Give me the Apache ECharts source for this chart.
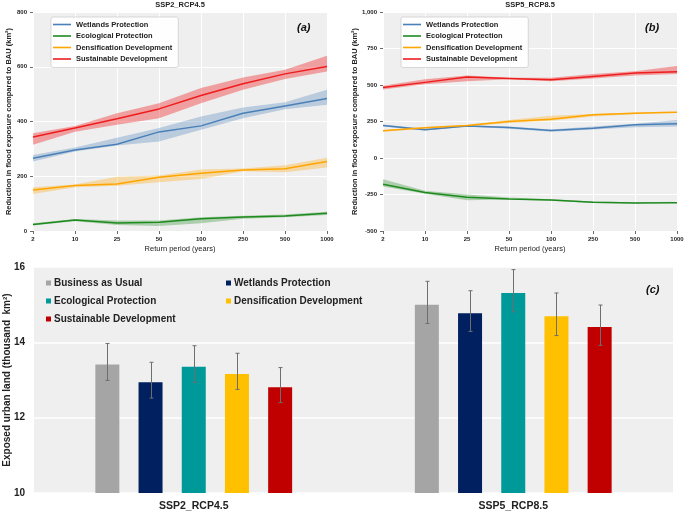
<!DOCTYPE html>
<html>
<head>
<meta charset="utf-8">
<script src="https://cdn.jsdelivr.net/npm/echarts@6/dist/echarts.min.js"></script>
<style>
html,body{margin:0;padding:0;background:#fff;}
#chart{width:685px;height:515px;}
</style>
</head>
<body>
<div id="chart"></div>
<script>
// ---------- DATA ----------
const periods = ['2', '10', '25', '50', '100', '250', '500', '1000'];
const lineNames = ['Wetlands Protection', 'Ecological Protection', 'Densification Development', 'Sustainable Development'];

// Panel (a) SSP2_RCP4.5 : mean, lower, upper
const wlA = [266, 296, 317, 362, 384, 430, 457, 484];
const wlALo = [254, 290, 312, 327, 370, 412, 445, 461];
const wlAHi = [278, 305, 341, 376, 418, 451, 470, 516];
const ecoA = [24, 40, 29, 32, 45, 51, 55, 65];
const ecoALo = [20, 36, 22, 18, 28, 45, 50, 58];
const ecoAHi = [28, 44, 38, 38, 50, 56, 60, 70];
const denA = [150, 166, 172, 196, 211, 223, 227, 254];
const denALo = [135, 160, 165, 178, 190, 218, 215, 232];
const denAHi = [160, 170, 198, 203, 225, 228, 240, 268];
const susA = [343, 376, 410, 446, 495, 538, 574, 601];
const susALo = [315, 363, 388, 412, 467, 516, 555, 583];
const susAHi = [357, 384, 430, 467, 522, 561, 589, 640];

// Panel (b) SSP5_RCP8.5
const wlB = [223, 193, 220, 209, 188, 204, 227, 234];
const wlBLo = [215, 188, 215, 200, 180, 195, 210, 215];
const wlBHi = [230, 200, 225, 215, 195, 215, 235, 260];
const ecoB = [-180, -237, -269, -280, -287, -303, -308, -306];
const ecoBLo = [-195, -245, -290, -285, -292, -308, -312, -310];
const ecoBHi = [-145, -225, -250, -270, -282, -298, -303, -300];
const denB = [186, 207, 223, 250, 266, 296, 307, 314];
const denBLo = [180, 200, 215, 240, 255, 285, 300, 308];
const denBHi = [192, 212, 228, 260, 290, 302, 312, 320];
const susB = [483, 518, 554, 545, 536, 559, 582, 591];
const susBLo = [470, 505, 525, 540, 525, 545, 565, 575];
const susBHi = [495, 540, 565, 550, 550, 575, 595, 630];

// Panel (c)
const scenarios = ['SSP2_RCP4.5', 'SSP5_RCP8.5'];
const barNames = ['Business as Usual', 'Wetlands Protection', 'Ecological Protection', 'Densification Development', 'Sustainable Development'];
const bauC = [13.41, 15.00];
const wlC = [12.94, 14.77];
const ecoC = [13.35, 15.31];
const denC = [13.16, 14.69];
const susC = [12.81, 14.41];
const bauErr = [[12.99, 13.97], [14.50, 15.62]];
const wlErr = [[12.52, 13.47], [14.29, 15.37]];
const ecoErr = [[12.94, 13.91], [14.81, 15.93]];
const denErr = [[12.75, 13.71], [14.18, 15.31]];
const susErr = [[12.40, 13.33], [13.92, 14.99]];

const yTicksA = [0, 200, 400, 600, 800];
const yTicksB = [-500, -250, 0, 250, 500, 750, 1000];
const yTicksC = [10, 12, 14, 16];

// ---------- STYLE ----------
const FONT = 'Liberation Sans';
const lineColors = ['#4a80b8', '#1f8a1f', '#ffa500', '#ee1c1c'];
const bandColors = ['rgba(74,128,184,0.32)', 'rgba(31,138,31,0.32)', 'rgba(255,165,0,0.32)', 'rgba(238,28,28,0.38)'];
const barColors = ['#a5a5a5', '#002060', '#009999', '#ffc000', '#c00000'];
const BAR_W = 24, BAR_GAP = 0.8;

const chart = echarts.init(document.getElementById('chart'));
const series = [];

function addPanel(gi, means, los, his, tag) {
  for (let k = 0; k < 4; k++) {
    const st = 'band_' + tag + '_' + k;
    series.push({
      type: 'line', name: st + '_lo', xAxisIndex: gi, yAxisIndex: gi,
      data: los[k], stack: st, stackStrategy: 'all', showSymbol: false, silent: true,
      lineStyle: { opacity: 0 }, z: 1
    });
    series.push({
      type: 'line', name: st + '_hi', xAxisIndex: gi, yAxisIndex: gi,
      data: his[k].map((v, i) => v - los[k][i]), stack: st, stackStrategy: 'all', showSymbol: false, silent: true,
      lineStyle: { opacity: 0 }, areaStyle: { color: bandColors[k], opacity: 1 }, z: 1
    });
  }
  for (let k = 0; k < 4; k++) {
    series.push({
      type: 'line', name: lineNames[k], xAxisIndex: gi, yAxisIndex: gi,
      data: means[k], showSymbol: false, color: lineColors[k],
      lineStyle: { width: 1.5, color: lineColors[k] }, z: 3
    });
  }
}
addPanel(0, [wlA, ecoA, denA, susA], [wlALo, ecoALo, denALo, susALo], [wlAHi, ecoAHi, denAHi, susAHi], 'a');
addPanel(1, [wlB, ecoB, denB, susB], [wlBLo, ecoBLo, denBLo, susBLo], [wlBHi, ecoBHi, denBHi, susBHi], 'b');

const barVals = [bauC, wlC, ecoC, denC, susC];
const errVals = [bauErr, wlErr, ecoErr, denErr, susErr];
barVals.forEach((vals, k) => {
  series.push({
    type: 'bar', name: barNames[k], xAxisIndex: 2, yAxisIndex: 2,
    data: vals, barWidth: BAR_W, barGap: (BAR_GAP * 100) + '%',
    itemStyle: { color: barColors[k] }, z: 2
  });
});
errVals.forEach((errs, k) => {
  series.push({
    type: 'custom', name: 'err_' + k, xAxisIndex: 2, yAxisIndex: 2, silent: true, z: 5,
    data: errs.map((e, i) => [i, e[0], e[1]]),
    encode: { x: 0, y: [1, 2] },
    renderItem: function (params, api) {
      const off = (k - 2) * BAR_W * (1 + BAR_GAP);
      const p1 = api.coord([api.value(0), api.value(1)]);
      const p2 = api.coord([api.value(0), api.value(2)]);
      const x = Math.round(p1[0] + off) + 0.5;
      const st = { stroke: '#6e6e6e', lineWidth: 1 };
      return {
        type: 'group', children: [
          { type: 'line', shape: { x1: x, y1: p1[1], x2: x, y2: p2[1] }, style: st },
          { type: 'line', shape: { x1: x - 2, y1: p1[1], x2: x + 2, y2: p1[1] }, style: st },
          { type: 'line', shape: { x1: x - 2, y1: p2[1], x2: x + 2, y2: p2[1] }, style: st }
        ]
      };
    }
  });
});

const gridBase = { show: true, backgroundColor: '#efefef', borderWidth: 0, containLabel: false, outerBoundsMode: 'none' };
const smallLabel = { fontFamily: FONT, fontSize: 6, fontWeight: 'bold', color: '#222' };
const whiteSplit = { show: true, lineStyle: { color: '#ffffff', width: 1 } };
const yNameA = 'Reduction in flood exposure compared to BAU (km\u00B2)';

function lineXAxis(gi) {
  return {
    gridIndex: gi, type: 'category', data: periods, boundaryGap: false,
    axisLine: { show: false, onZero: false },
    axisTick: { show: true, length: 3, lineStyle: { color: '#444', width: 0.8 } },
    axisLabel: Object.assign({ margin: 5 }, smallLabel),
    splitLine: whiteSplit,
    name: 'Return period (years)', nameLocation: 'middle', nameGap: 14, nameMoveOverlap: false,
    nameTextStyle: { fontFamily: FONT, fontSize: 7.5, color: '#222' }
  };
}
function lineYAxis(gi, ticks, gap) {
  return {
    gridIndex: gi, type: 'value', min: ticks[0], max: ticks[ticks.length - 1],
    interval: ticks[1] - ticks[0],
    axisLine: { show: false, onZero: false },
    axisTick: { show: true, length: 3, lineStyle: { color: '#444', width: 0.8 } },
    axisLabel: Object.assign({ margin: 6 }, smallLabel),
    splitLine: whiteSplit,
    name: yNameA, nameLocation: 'middle', nameGap: gap, nameRotate: 90, nameMoveOverlap: false,
    nameTextStyle: { fontFamily: FONT, fontSize: 7.5, fontWeight: 'bold', color: '#222' }
  };
}

function lineLegend(left) {
  return {
    orient: 'vertical', left: left, top: 17,
    data: lineNames.map((n, k) => ({ name: n, icon: 'rect', itemStyle: { color: lineColors[k] } })),
    itemWidth: 18, itemHeight: 1.6, itemGap: 2.5,
    padding: [3, 6, 4, 2],
    backgroundColor: 'rgba(255,255,255,0.9)', borderColor: '#cfcfcf', borderWidth: 0.8, borderRadius: 2,
    textStyle: { fontFamily: FONT, fontSize: 7.5, fontWeight: 'bold', color: '#222', lineHeight: 9 },
    selectedMode: false
  };
}
function barLegend(left, idx) {
  return {
    orient: 'vertical', left: left, top: 277,
    data: idx.map(k => ({ name: barNames[k], icon: 'rect', itemStyle: { color: barColors[k] } })),
    itemWidth: 5, itemHeight: 5, itemGap: 6, padding: 0,
    textStyle: { fontFamily: FONT, fontSize: 10, fontWeight: 'bold', color: '#222', lineHeight: 12, padding: [0, 0, 0, -2] },
    selectedMode: false
  };
}

const option = {
  animation: false,
  backgroundColor: '#ffffff',
  title: [
    { text: 'SSP2_RCP4.5', left: 180, top: 1, padding: 0, textAlign: 'center',
      textStyle: { fontFamily: FONT, fontSize: 7.5, fontWeight: 'bold', color: '#222' } },
    { text: 'SSP5_RCP8.5', left: 530, top: 1, padding: 0, textAlign: 'center',
      textStyle: { fontFamily: FONT, fontSize: 7.5, fontWeight: 'bold', color: '#222' } }
  ],
  grid: [
    Object.assign({ left: 33, top: 12, width: 294, height: 219 }, gridBase),
    Object.assign({ left: 383, top: 12, width: 294, height: 219 }, gridBase),
    Object.assign({ left: 34, top: 267, width: 639, height: 226 }, gridBase)
  ],
  xAxis: [
    lineXAxis(0), lineXAxis(1),
    {
      gridIndex: 2, type: 'category', data: scenarios,
      axisLine: { show: false }, axisTick: { show: false },
      axisLabel: { fontFamily: FONT, fontSize: 10.5, fontWeight: 'bold', color: '#222', margin: 8 },
      splitLine: { show: false }
    }
  ],
  yAxis: [
    lineYAxis(0, yTicksA, 20), lineYAxis(1, yTicksB, 24),
    {
      gridIndex: 2, type: 'value', min: yTicksC[0], max: yTicksC[yTicksC.length - 1], interval: 2,
      axisLine: { show: false }, axisTick: { show: false },
      axisLabel: { fontFamily: FONT, fontSize: 10, fontWeight: 'bold', color: '#222', margin: 9 },
      splitLine: { show: true, lineStyle: { color: '#ffffff', width: 1.5 } },
      name: 'Exposed urban land (thousand  km\u00B2)', nameLocation: 'middle', nameGap: 22, nameRotate: 90,
      nameMoveOverlap: false,
      nameTextStyle: { fontFamily: FONT, fontSize: 10, fontWeight: 'bold', color: '#222' }
    }
  ],
  legend: [
    lineLegend(51), lineLegend(401),
    barLegend(46, [0, 2, 4]), barLegend(226, [1, 3])
  ],
  graphic: [
    { type: 'text', left: 297, top: 22, style: { text: '(a)', font: 'italic bold 11px "Liberation Sans"', fill: '#111' } },
    { type: 'text', left: 645, top: 22, style: { text: '(b)', font: 'italic bold 11px "Liberation Sans"', fill: '#111' } },
    { type: 'text', left: 646, top: 284, style: { text: '(c)', font: 'italic bold 11px "Liberation Sans"', fill: '#111' } }
  ],
  series: series
};
chart.setOption(option);
</script>
</body>
</html>
